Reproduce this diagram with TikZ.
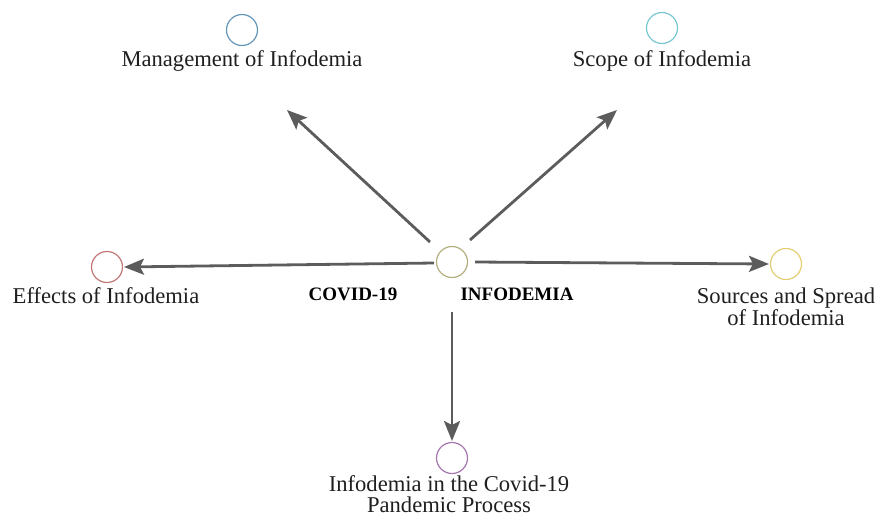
\documentclass[tikz,border=0pt]{standalone}
\usepackage{fontspec}
\setmainfont{Liberation Serif}
\usetikzlibrary{arrows.meta}
\definecolor{arr}{HTML}{5C5C5C}
\definecolor{cc}{HTML}{B3AE7E}
\definecolor{cm}{HTML}{6496B8}
\definecolor{cs}{HTML}{78C8D2}
\definecolor{ce}{HTML}{C27878}
\definecolor{cr}{HTML}{E4CE74}
\definecolor{cp}{HTML}{A475AE}
\tikzset{
  ring/.style={circle, draw=#1, line width=1.2pt, minimum size=31pt, inner sep=0pt},
  lbl/.style={font=\fontsize{22.6}{22}\selectfont, align=center, inner sep=0pt, text=black!88},
  hd/.style={font=\fontsize{19}{20}\selectfont\bfseries, inner sep=0pt},
  link/.style={draw=arr, line width=2.8pt, -{Stealth[length=20pt,width=16pt,inset=4pt]}}
}
\begin{document}
\begin{tikzpicture}[x=1pt,y=-1pt]
\useasboundingbox (0,0) rectangle (878,517);
\node[ring=cc] (c) at (452,262) {};
\node[ring=cm] (m) at (242,30) {};
\node[ring=cs] (s) at (662,28) {};
\node[ring=ce] (e) at (107,267) {};
\node[ring=cr] (r) at (786,264) {};
\node[ring=cp] (p) at (452,458) {};
\node[lbl, anchor=base] (ml) at (242,66) {Management of Infodemia};
\node[lbl, anchor=base] (sl) at (662,66) {Scope of Infodemia};
\node[lbl, anchor=base] (el) at (106,303) {Effects of Infodemia};
\node[lbl, anchor=base] (rl) at (786,303) {Sources and Spread};
\node[lbl, anchor=base] (rl2) at (786,325) {of Infodemia};
\node[lbl, anchor=base] (pl) at (449,491) {Infodemia in the Covid-19};
\node[lbl, anchor=base] (pl2) at (449,512) {Pandemic Process};
\node[hd, anchor=base] (cv) at (353,300) {COVID-19};
\node[hd, anchor=base] (inf) at (517,300) {INFODEMIA};
\coordinate (a1) at (430,242);
\coordinate (a2) at (470,240);
\coordinate (a3) at (434,263);
\coordinate (a4) at (475,262);
\coordinate (a5) at (452,312);
\coordinate (b1) at (287,110);
\coordinate (b2) at (617,110);
\coordinate (b3) at (124,267);
\coordinate (b4) at (769,264);
\coordinate (b5) at (452,441);
\draw[link] (a1) -- (b1);
\draw[link] (a2) -- (b2);
\draw[link] (a3) -- (b3);
\draw[link] (a4) -- (b4);
\draw[link] (a5) -- (b5);
\end{tikzpicture}
\end{document}
